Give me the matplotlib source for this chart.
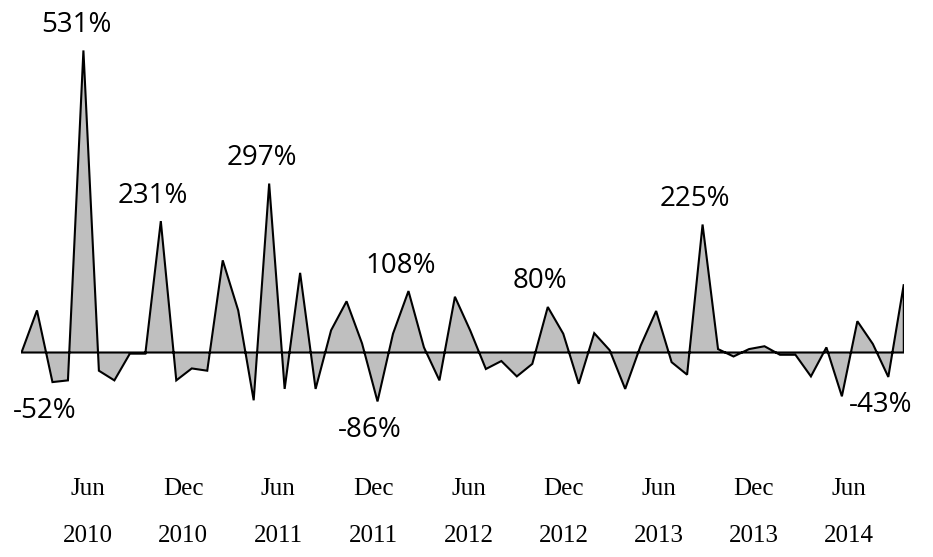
import numpy as np
import matplotlib
matplotlib.use("Agg")
import matplotlib.pyplot as plt

# monthly % change
values = [0, 74, -52, -49, 531, -32, -49, -2, -2, 231,
          -49, -28, -32, 162, 74, -84, 297, -64, 140, -64,
          39, 90, 16, -86, 33, 108, 9, -49, 98, 38,
          -29, -15, -42, -20, 80, 33, -55, 34, 4, -64,
          12, 73, -17, -39, 225, 6, -7, 6, 11, -4,
          -4, -42, 9, -77, 55, 15, -43, 120]

# which points get a value label
labelled = [4, 2, 9, 16, 23, 25, 34, 44, 56]

tick_labels = ["Jun\n2010", "Dec\n2010", "Jun\n2011", "Dec\n2011", "Jun\n2012",
               "Dec\n2012", "Jun\n2013", "Dec\n2013", "Jun\n2014"]

x = np.arange(len(values))
y = np.array(values)

fig = plt.figure(figsize=(9.33, 5.57), dpi=100)
ax = fig.add_axes([21 / 933, 0.2659, 882.3 / 933, 0.6741])

# area with black outline (incl. baseline), like the excel area chart
poly = ax.fill_between(x, y, 0, facecolor="#BFBFBF", edgecolor="black", linewidth=1.5)
poly.set_joinstyle("miter")

for i in labelled:
    v = values[i]
    if v > 0:
        off = (-7, 18)
    else:
        off = (7 if i == len(values) - 1 else -7, -36)
    ax.annotate(f"{v}%", (x[i], v), xytext=off, textcoords="offset pixels",
                ha="center", va="baseline", fontsize=20, family="Open Sans")

ax.set_xlim(0, len(values) - 1)
ax.set_ylim(-100, 560)

tick_pos = 4.33 + 6.145 * np.arange(len(tick_labels))
ax.set_xticks(tick_pos)
ax.set_xticklabels(tick_labels, family="Liberation Serif", fontsize=18,
                   linespacing=2.45)
ax.tick_params(axis="x", length=0, pad=50)
ax.set_yticks([])
for s in ax.spines.values():
    s.set_visible(False)

fig.savefig("out.png", dpi=100)
